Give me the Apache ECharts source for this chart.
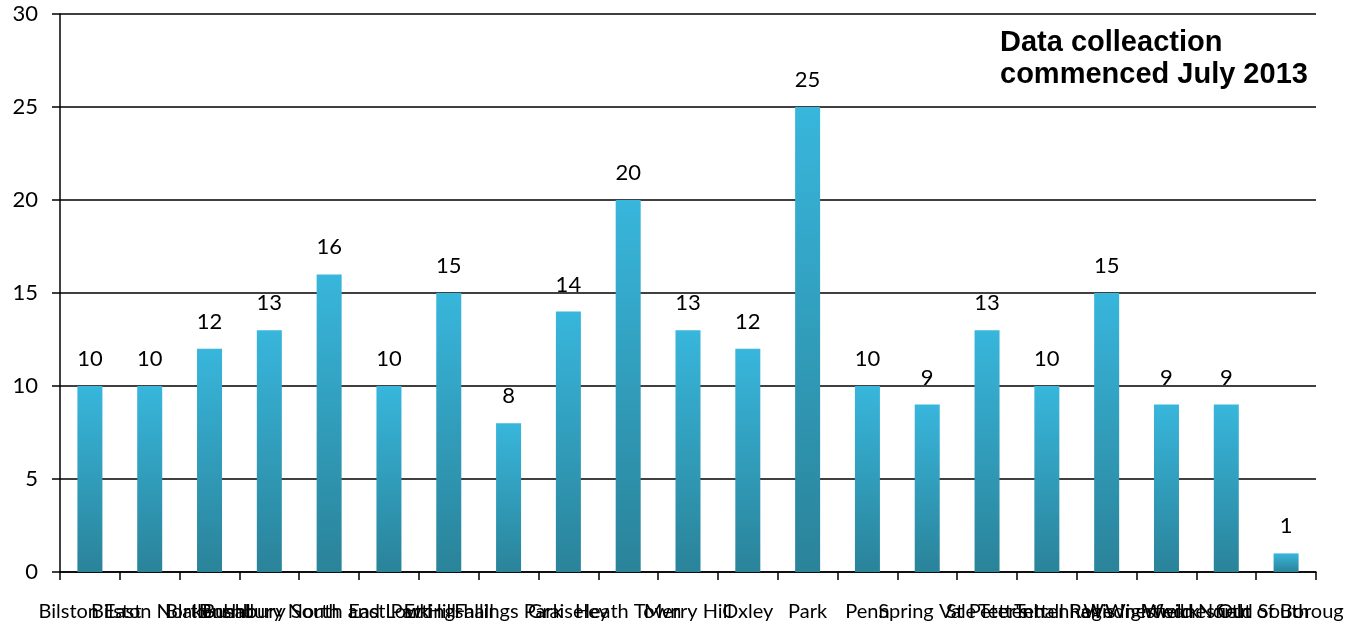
<!DOCTYPE html>
<html>
<head>
<meta charset="utf-8">
<script src="https://cdn.jsdelivr.net/npm/echarts@6/dist/echarts.min.js"></script>
<style>
  html, body { margin: 0; padding: 0; background: #fff; }
  #chart { width: 1345px; height: 632px; }
</style>
</head>
<body>
<div id="chart"></div>
<script>
// Ward names along the x axis
const wards = [
  'Bilston East', 'Bilston North', 'Blakenhall', 'Bushbury North',
  'Bushbury South and Low Hill', 'East Park', 'Ettingshall', 'Fallings Park',
  'Graiseley', 'Heath Town', 'Merry Hill', 'Oxley', 'Park', 'Penn',
  'Spring Vale', 'St Peter\'s', 'Tettenhall Regis', 'Tettenhall Wightwick',
  'Wednesfield North', 'Wednesfield South', 'Out of Borough'
];
// Count recorded for each ward
const counts = [10, 10, 12, 13, 16, 10, 15, 8, 14, 20, 13, 12, 25, 10, 9, 13, 10, 15, 9, 9, 1];
// Value axis ticks
const yTicks = { min: 0, max: 30, step: 5 };

const labelFont = 'Lato, "Open Sans", sans-serif';

const chart = echarts.init(document.getElementById('chart'), null, { renderer: 'canvas' });
chart.setOption({
  animation: false,
  backgroundColor: '#ffffff',
  grid: { left: 60, right: 29, top: 14, bottom: 60, containLabel: false, outerBoundsMode: 'none' },
  xAxis: {
    type: 'category',
    data: wards,
    boundaryGap: true,
    axisLine: { show: true, lineStyle: { color: '#000', width: 1.5 } },
    axisTick: { show: true, alignWithLabel: false, length: 8, lineStyle: { color: '#000', width: 1.5 } },
    axisLabel: {
      interval: 0,
      hideOverlap: false,
      color: '#000',
      fontFamily: labelFont,
      fontSize: 20,
      margin: 30
    }
  },
  yAxis: {
    type: 'value',
    min: yTicks.min,
    max: yTicks.max,
    interval: yTicks.step,
    axisLine: { show: true, lineStyle: { color: '#000', width: 1.5 } },
    axisTick: { show: true, length: 8, lineStyle: { color: '#000', width: 1.5 } },
    splitLine: { show: true, lineStyle: { color: '#000', width: 1.5 } },
    axisLabel: {
      color: '#000',
      fontFamily: labelFont,
      fontSize: 22,
      margin: 22
    }
  },
  series: [{
    type: 'bar',
    data: counts,
    barWidth: 25,
    itemStyle: {
      color: new echarts.graphic.LinearGradient(0, 0, 0, 1, [
        { offset: 0, color: '#38b6dc' },
        { offset: 1, color: '#2a8399' }
      ])
    },
    label: {
      show: true,
      position: 'top',
      distance: 16,
      color: '#000',
      fontFamily: labelFont,
      fontSize: 22
    }
  }],
  graphic: [{
    type: 'text',
    left: 1000,
    top: 27,
    style: {
      text: 'Data colleaction\ncommenced July 2013',
      font: 'bold 29px "Liberation Sans", Arial, sans-serif',
      lineHeight: 32,
      fill: '#000'
    }
  }]
});
</script>
</body>
</html>
